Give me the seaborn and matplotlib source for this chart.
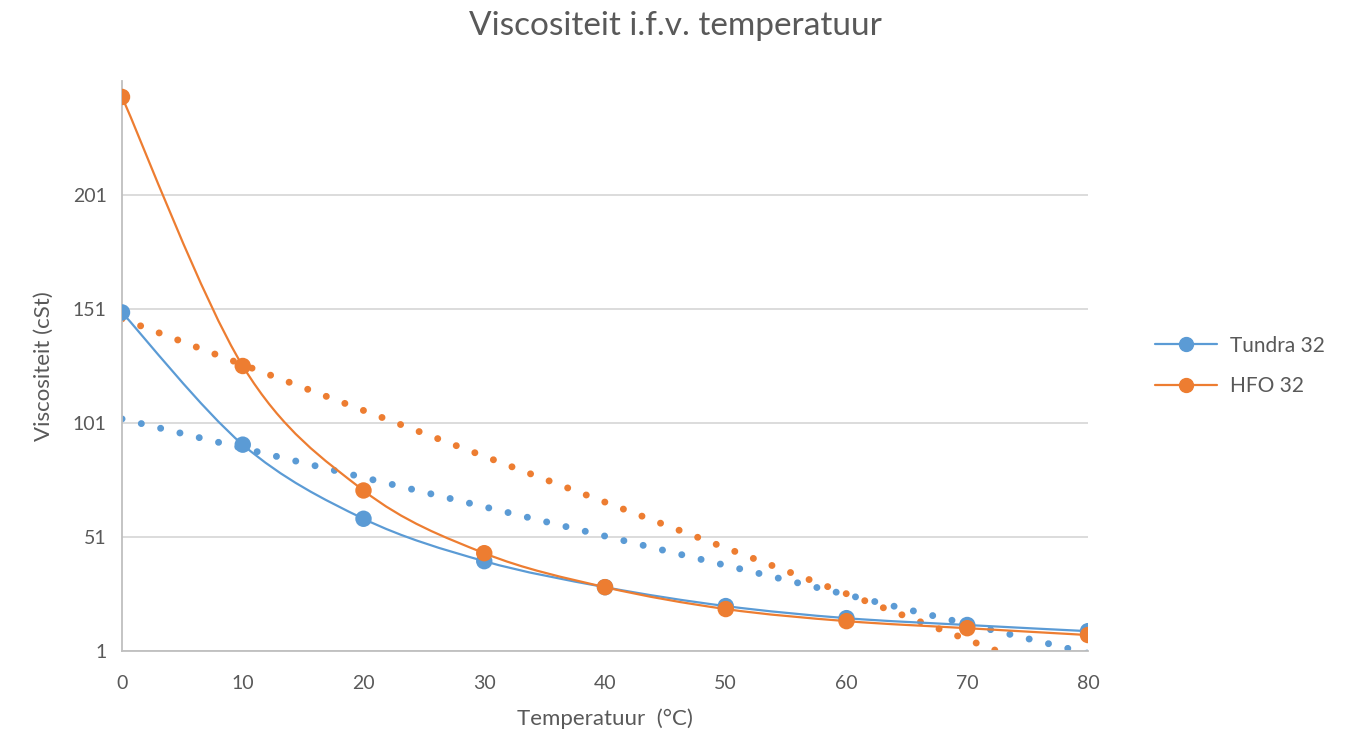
import numpy as np
import pandas as pd
import matplotlib
matplotlib.use('Agg')
import matplotlib.pyplot as plt
from matplotlib.path import Path
from matplotlib.patches import PathPatch
from matplotlib.lines import Line2D
import seaborn as sns

# data
temperature = [0, 10, 20, 30, 40, 50, 60, 70, 80]
tundra_32 = [149.5, 91.5, 59.0, 40.4, 29.0, 20.7, 15.4, 12.4, 9.7]
hfo_32 = [244.0, 126.0, 71.4, 43.9, 29.0, 19.4, 14.1, 11.0, 8.0]

# linear trendlines (value at 0 and at 80 degC), as drawn in the original
trend_x = [0, 80]
tundra_trend = [102.8, 0.0]
hfo_trend = [146.7, -14.1]

series_names = ['Tundra 32', 'HFO 32']
colors = {'Tundra 32': '#5B9BD5', 'HFO 32': '#ED7D31'}

y_ticks = [1, 51, 101, 151, 201]
x_ticks = [0, 10, 20, 30, 40, 50, 60, 70, 80]

sns.set_theme(style='white')
plt.rcParams['font.family'] = ['Lato', 'DejaVu Sans']
text_color = '#595959'


def smooth_path(xs, ys):
    # Excel style smoothed line: cubic bezier through the points
    pts = np.column_stack([xs, ys]).astype(float)
    verts = [pts[0]]
    codes = [Path.MOVETO]
    n = len(pts)
    for i in range(n - 1):
        p0 = pts[i - 1] if i > 0 else pts[i]
        p1 = pts[i]
        p2 = pts[i + 1]
        p3 = pts[i + 2] if i + 2 < n else pts[i + 1]
        c1 = p1 + (p2 - p0) / 6.0
        c2 = p2 - (p3 - p1) / 6.0
        verts += [c1, c2, p2]
        codes += [Path.CURVE4] * 3
    return Path(verts, codes)


df = pd.DataFrame({
    'temp': temperature * 2,
    'visc': tundra_32 + hfo_32,
    'serie': ['Tundra 32'] * len(temperature) + ['HFO 32'] * len(temperature),
})
trend_df = pd.DataFrame({
    'temp': trend_x * 2,
    'visc': tundra_trend + hfo_trend,
    'serie': ['Tundra 32'] * 2 + ['HFO 32'] * 2,
})

fig = plt.figure(figsize=(13.5, 7.39), dpi=100)
ax = fig.add_axes([122 / 1350, 88 / 739, 966 / 1350, 570 / 739])

for y in y_ticks:
    ax.axhline(y, color='#D9D9D9', lw=1.3, zorder=0)

# dotted trendlines
for name in series_names:
    sub = trend_df[trend_df['serie'] == name]
    sns.lineplot(data=sub, x='temp', y='visc', ax=ax, color=colors[name],
                 lw=5.0, legend=False, zorder=2)
    ln = ax.lines[-1]
    ln.set_linestyle((0, (0.01, 2.85)))
    ln.set_dash_capstyle('round')

# smoothed lines
for name in series_names:
    vals = tundra_32 if name == 'Tundra 32' else hfo_32
    ax.add_patch(PathPatch(smooth_path(temperature, vals), facecolor='none',
                           edgecolor=colors[name], lw=1.6, zorder=3))

sns.scatterplot(data=df, x='temp', y='visc', hue='serie', palette=colors,
                s=140, edgecolor='none', ax=ax, legend=False, zorder=4)

ax.set_xlim(0, 80)
ax.set_ylim(1, 251)
ax.set_xticks(x_ticks)
ax.set_yticks(y_ticks)
ax.tick_params(axis='both', length=0, labelsize=14, colors=text_color)
ax.tick_params(axis='x', pad=17)
ax.tick_params(axis='y', pad=11)
for s in ['top', 'right']:
    ax.spines[s].set_visible(False)
ax.spines['left'].set_color('#BFBFBF')
ax.spines['bottom'].set_color('#BFBFBF')
ax.spines['left'].set_linewidth(1.3)
ax.spines['bottom'].set_linewidth(1.3)

ax.set_xlabel('Temperatuur  (°C)', fontsize=16, color=text_color, labelpad=12)
ax.set_ylabel('Viscositeit (cSt)', fontsize=16, color=text_color, labelpad=14)
fig.text(0.5, 0.985, 'Viscositeit i.f.v. temperatuur', ha='center', va='top',
         fontsize=24, color=text_color)

handles = [Line2D([0], [0], color=colors[n], lw=1.6, marker='o', markersize=10)
           for n in series_names]
leg = fig.legend(handles, series_names, loc='center left',
                 bbox_to_anchor=(1136 / 1350, 1 - 366 / 739), frameon=False,
                 fontsize=15, labelspacing=1.0, handlelength=3.0, handletextpad=0.6)
for t in leg.get_texts():
    t.set_color(text_color)

fig.savefig('out.png', dpi=100)
